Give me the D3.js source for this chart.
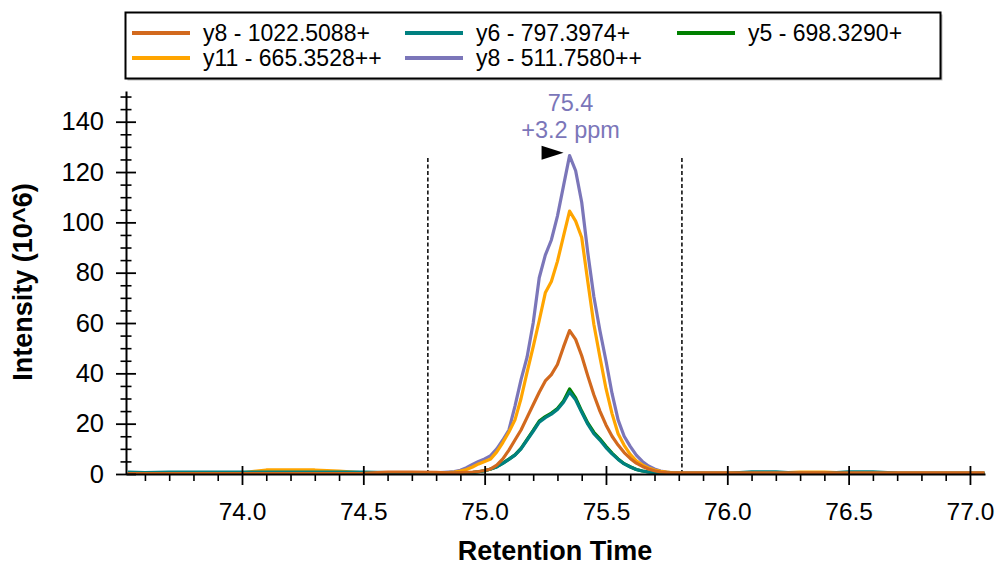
<!DOCTYPE html>
<html><head><meta charset="utf-8">
<script src="https://cdn.jsdelivr.net/npm/d3@7"></script>
<style>
body{margin:0;background:#fff;}
svg{display:block;font-family:"Liberation Sans",Arial,sans-serif;}
</style>
</head><body>
<svg id="chart" width="1000" height="565"></svg>
<script>
// ---------- data ----------
const times = [73.53, 73.6, 73.7, 73.8, 73.9, 74.0, 74.1, 74.2, 74.3, 74.4, 74.5, 74.6, 74.7, 74.8,
  74.85, 74.875, 74.9, 74.925, 74.95, 74.975, 75.0, 75.025, 75.05, 75.075, 75.1, 75.125, 75.15, 75.175,
  75.2, 75.225, 75.25, 75.275, 75.3, 75.325, 75.35, 75.375, 75.4, 75.425, 75.45, 75.475, 75.5, 75.525,
  75.55, 75.575, 75.6, 75.625, 75.65, 75.675, 75.7, 75.725, 75.75, 75.775, 75.8,
  75.9, 76.0, 76.1, 76.2, 76.3, 76.4, 76.5, 76.6, 76.7, 76.8, 76.9, 77.0, 77.06];

const y8_1022 = [0.2, 0.2, 0.2, 0.2, 0.2, 0.2, 0.2, 0.2, 0.2, 0.2, 0.3, 0.8, 0.8, 0.7,
  0.5, 0.5, 0.6, 0.7, 0.8, 1.0, 1.4, 2.0, 3.5, 6.0, 9.5, 13.5, 17.5, 22.5, 27.5, 32.5, 37.0, 39.5, 43.5, 50.5,
  57.0, 53.5, 47.0, 39.0, 31.5, 25.0, 19.5, 15.0, 11.5, 8.5, 6.2, 4.3, 3.0, 2.0, 1.3, 0.8, 0.6, 0.5, 0.5,
  0.5, 0.5, 0.5, 0.5, 0.5, 0.5, 0.5, 0.5, 0.5, 0.5, 0.5, 0.5, 0.5];

const y6_797 = [0.8, 0.6, 0.8, 0.8, 0.8, 0.8, 0.8, 0.8, 0.8, 0.8, 0.8, 0.6, 0.4, 0.3,
  0.3, 0.3, 0.4, 0.5, 0.6, 0.9, 1.3, 2.0, 2.8, 4.2, 5.8, 7.5, 10.0, 13.5, 17.0, 20.6, 22.4, 23.8, 25.6, 28.5,
  32.6, 29.5, 24.5, 19.8, 16.0, 13.5, 10.5, 8.0, 5.8, 4.0, 2.8, 1.8, 1.2, 0.8, 0.6, 0.5, 0.4, 0.3, 0.3,
  0.3, 0.3, 0.9, 0.9, 0.3, 0.3, 0.9, 0.9, 0.4, 0.3, 0.3, 0.3, 0.3];

const y5_698 = [0.4, 0.4, 0.4, 0.4, 0.4, 0.4, 0.4, 0.4, 0.4, 0.4, 0.4, 0.4, 0.4, 0.4,
  0.3, 0.3, 0.4, 0.5, 0.6, 0.9, 1.3, 2.0, 2.9, 4.3, 5.9, 7.6, 10.2, 13.8, 17.3, 21.0, 22.8, 24.2, 26.0, 29.0,
  33.8, 30.2, 25.0, 20.3, 16.6, 14.0, 11.0, 8.3, 6.0, 4.1, 2.9, 1.8, 1.2, 0.8, 0.6, 0.5, 0.4, 0.3, 0.3,
  0.3, 0.3, 0.3, 0.3, 0.3, 0.3, 0.3, 0.3, 0.3, 0.3, 0.3, 0.3, 0.3];

const y11_665 = [0.4, 0.4, 0.4, 0.4, 0.4, 0.5, 1.6, 1.6, 1.6, 1.2, 0.5, 0.5, 0.5, 0.5,
  0.6, 0.8, 1.2, 1.8, 2.8, 4.0, 5.0, 6.0, 8.8, 12.5, 16.7, 21.5, 30.0, 40.5, 50.5, 61.0, 72.0, 76.5, 84.5, 94.5,
  104.5, 100.5, 94.0, 76.5, 59.5, 46.5, 34.0, 24.0, 16.0, 11.4, 7.8, 5.2, 3.6, 2.4, 1.6, 1.1, 0.8, 0.5, 0.4,
  0.3, 0.3, 0.3, 0.4, 0.8, 0.8, 0.4, 0.3, 0.3, 0.3, 0.3, 0.3, 0.3];

const y8_511 = [0.3, 0.3, 0.3, 0.3, 0.3, 0.3, 0.3, 0.3, 0.3, 0.3, 0.3, 0.3, 0.3, 0.5,
  0.8, 1.0, 1.5, 2.5, 3.8, 5.0, 6.0, 7.3, 10.0, 13.5, 17.5, 27.0, 37.5, 46.5, 60.0, 78.0, 87.0, 93.0, 102.5, 114.5,
  126.5, 120.5, 108.0, 88.0, 70.5, 57.0, 45.0, 32.0, 21.5, 15.0, 11.0, 7.5, 5.0, 3.2, 2.0, 1.2, 0.8, 0.5, 0.4,
  0.3, 0.3, 0.3, 0.3, 0.3, 0.3, 0.3, 0.3, 0.3, 0.3, 0.3, 0.3, 0.3];

const legendNames = ["y8 - 1022.5088+", "y6 - 797.3974+", "y5 - 698.3290+", "y11 - 665.3528++", "y8 - 511.7580++"];
const legendColors = ["#d2691e", "#008080", "#008000", "#ffa500", "#7b76b9"];
const legendValues = [y8_1022, y6_797, y5_698, y11_665, y8_511];
const drawOrder = [2, 4, 3, 1, 0];

const xTicks = [74.0, 74.5, 75.0, 75.5, 76.0, 76.5, 77.0];
const xMinorTicks = d3.range(73.6, 77.05, 0.1).map(v => +v.toFixed(1)).filter(v => !xTicks.includes(v));
const yTicks = [0, 20, 40, 60, 80, 100, 120, 140];
const yMinorTicks = d3.range(0, 151, 5).filter(v => v % 20 !== 0);
const boundaries = [74.766, 75.813];
const peakLabel = ["75.4", "+3.2 ppm"];
const xTitle = "Retention Time";
const yTitle = "Intensity (10^6)";

// ---------- layout ----------
const svg = d3.select("#chart");
const x = d3.scaleLinear().domain([73.522, 77.062]).range([126, 985]);
const y = d3.scaleLinear().domain([0, 152.2]).range([474, 91]);

// boundary dashed lines
const peakMax = d3.max(y8_511);
svg.append("g").selectAll("line").data(boundaries).join("line")
  .attr("x1", d => x(d)).attr("x2", d => x(d))
  .attr("y1", y(0)).attr("y2", y(peakMax))
  .attr("stroke", "#000").attr("stroke-width", 1.5).attr("stroke-dasharray", "4,2.5");

// lines
const line = d3.line().x((d, i) => x(times[i])).y(d => y(d));
svg.append("g").selectAll("path").data(drawOrder).join("path")
  .attr("d", k => line(legendValues[k]))
  .attr("fill", "none")
  .attr("stroke", k => legendColors[k])
  .attr("stroke-width", 3.2)
  .attr("stroke-linejoin", "round");

// axes
const yAxisMinor = svg.append("g").attr("transform", `translate(${x.range()[0]},0)`)
  .call(d3.axisLeft(y).tickValues(yMinorTicks).tickSize(5.5).tickSizeOuter(0).tickFormat(""));
yAxisMinor.selectAll(".tick line").attr("x1", 5.5).attr("stroke-width", 1.6);
yAxisMinor.select(".domain").remove();

const yAxis = svg.append("g").attr("transform", `translate(${x.range()[0]},0)`)
  .call(d3.axisLeft(y).tickValues(yTicks).tickSize(10).tickSizeOuter(0).tickPadding(12));
yAxis.selectAll(".tick line").attr("x1", 10).attr("stroke-width", 1.8);
yAxis.select(".domain").attr("stroke-width", 2);
yAxis.selectAll("text").attr("font-size", 25.5).attr("fill", "#000")
  .attr("font-family", "Liberation Sans, Arial, sans-serif");

const xAxisMinor = svg.append("g").attr("transform", `translate(0,${y(0)})`)
  .call(d3.axisBottom(x).tickValues(xMinorTicks).tickSize(7).tickSizeOuter(0).tickFormat(""));
xAxisMinor.selectAll(".tick line").attr("stroke-width", 1.6);
xAxisMinor.select(".domain").remove();

const xAxis = svg.append("g").attr("transform", `translate(0,${y(0)})`)
  .call(d3.axisBottom(x).tickValues(xTicks).tickSize(11).tickSizeOuter(0).tickPadding(18)
    .tickFormat(d3.format(".1f")));
xAxis.selectAll(".tick line").attr("y1", -8).attr("stroke-width", 1.8);
xAxis.select(".domain").attr("stroke-width", 2);
xAxis.selectAll("text").attr("font-size", 24.5).attr("fill", "#000")
  .attr("font-family", "Liberation Sans, Arial, sans-serif");

// axis titles
svg.append("text").attr("x", 555).attr("y", 560).attr("text-anchor", "middle")
  .attr("font-size", 27).attr("font-weight", "bold").text(xTitle);
svg.append("text").attr("transform", "translate(32,282) rotate(-90)").attr("text-anchor", "middle")
  .attr("font-size", 27).attr("font-weight", "bold").text(yTitle);

// peak annotation
const iPeak = y8_511.indexOf(peakMax);
const px = x(times[iPeak]), py = y(peakMax);
svg.append("path")
  .attr("d", `M${px - 6},${py - 3} L${px - 28},${py - 10} L${px - 28},${py + 4} Z`)
  .attr("fill", "#000");
svg.append("g").selectAll("text").data(peakLabel).join("text")
  .attr("x", px + 1).attr("y", (d, i) => 111 + i * 27)
  .attr("text-anchor", "middle").attr("font-size", 23.5).attr("fill", legendColors[4])
  .text(d => d);

// legend
const lg = svg.append("g");
lg.append("rect").attr("x", 127.5).attr("y", 14.5).attr("width", 815).attr("height", 66)
  .attr("fill", "#bbb");
lg.append("rect").attr("x", 125.5).attr("y", 12.5).attr("width", 815).attr("height", 66)
  .attr("fill", "#fff").attr("stroke", "#000").attr("stroke-width", 2);
const colX = [132, 405, 677], rowY = [33, 58];
const items = lg.selectAll("g.item").data(legendNames).join("g").attr("class", "item")
  .attr("transform", (d, i) => `translate(${colX[i % 3]},${rowY[Math.floor(i / 3)]})`);
items.append("line").attr("x1", 0).attr("x2", 58).attr("y1", 0).attr("y2", 0)
  .attr("stroke", (d, i) => legendColors[i]).attr("stroke-width", 4);
items.append("text").attr("x", 71).attr("y", 0).attr("dy", "0.36em")
  .attr("font-size", 23).attr("fill", "#000").text(d => d);
</script>
</body></html>
